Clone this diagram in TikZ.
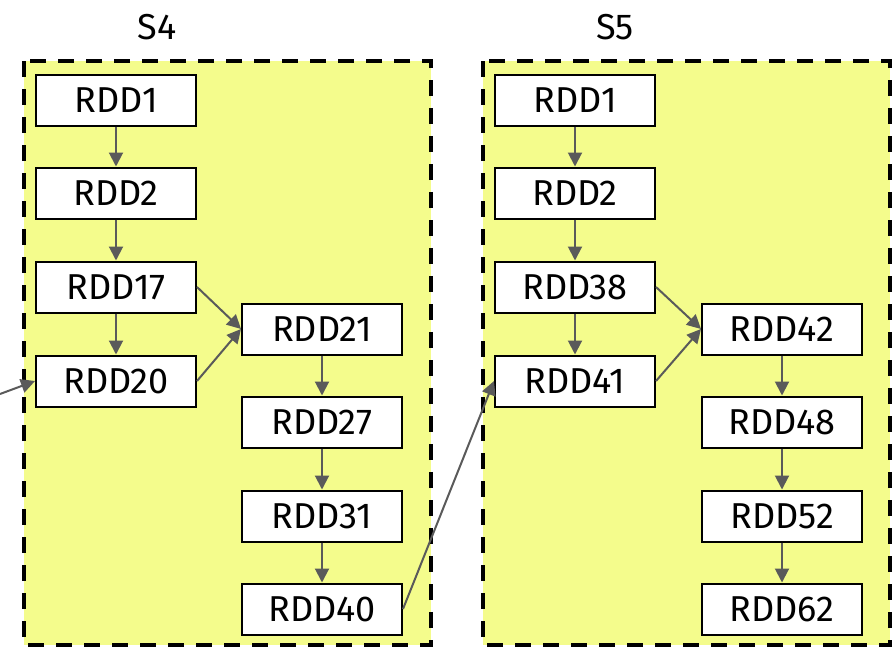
\documentclass[tikz,border=0pt]{standalone}
\usepackage{fontspec}
\setmainfont{Fira Sans}
\usetikzlibrary{arrows.meta}
\definecolor{stagegelb}{RGB}{244,252,140}
\definecolor{kantengrau}{RGB}{90,90,90}
\tikzset{
	rdd/.style={draw=black, fill=white, line width=2pt, minimum width=160pt, minimum height=51pt, inner sep=0pt, font=\fontsize{36}{40}\selectfont},
	stage/.style={draw=black, fill=stagegelb, line width=4pt, dash pattern=on 16pt off 12pt},
	stagename/.style={font=\fontsize{36}{40}\selectfont},
	kante/.style={draw=kantengrau, line width=2pt, -{Triangle[length=14pt,width=14pt]}},
}
\begin{document}
\begin{tikzpicture}[x=1pt, y=-1pt]
		\useasboundingbox (0,0) rectangle (893,648);
		
		%Stages
		\draw[stage] (24,61) rectangle (431,645);
		\draw[stage] (483,61) rectangle (890,645);
		\node[stagename] (s4) at (157,27) {S4};
		\node[stagename] (s5) at (615,27) {S5};
		
		%Knoten S4
		\node[rdd] (a1) at (116,100) {RDD1};
		\node[rdd] (a2) at (116,193) {RDD2};
		\node[rdd] (a17) at (116,287) {RDD17};
		\node[rdd] (a20) at (116,381) {RDD20};
		\node[rdd] (a21) at (322,329) {RDD21};
		\node[rdd] (a27) at (322,422) {RDD27};
		\node[rdd] (a31) at (322,516) {RDD31};
		\node[rdd] (a40) at (322,609) {RDD40};
		
		%Knoten S5
		\node[rdd] (b1) at (575,100) {RDD1};
		\node[rdd] (b2) at (575,193) {RDD2};
		\node[rdd] (b38) at (575,287) {RDD38};
		\node[rdd] (b41) at (575,381) {RDD41};
		\node[rdd] (b42) at (782,329) {RDD42};
		\node[rdd] (b48) at (782,422) {RDD48};
		\node[rdd] (b52) at (782,516) {RDD52};
		\node[rdd] (b62) at (782,609) {RDD62};
		
		%Kanten S4
		\coordinate (ein) at (0,394);
		\draw[kante] (ein) -- (a20.west);
		\draw[kante] (a1) -- (a2);
		\draw[kante] (a2) -- (a17);
		\draw[kante] (a17) -- (a20);
		\draw[kante] (a17.east) -- (a21.west);
		\draw[kante] (a20.east) -- (a21.west);
		\draw[kante] (a21) -- (a27);
		\draw[kante] (a27) -- (a31);
		\draw[kante] (a31) -- (a40);
		
		%Kanten S5
		\draw[kante] (a40.east) -- (b41.west);
		\draw[kante] (b1) -- (b2);
		\draw[kante] (b2) -- (b38);
		\draw[kante] (b38) -- (b41);
		\draw[kante] (b38.east) -- (b42.west);
		\draw[kante] (b41.east) -- (b42.west);
		\draw[kante] (b42) -- (b48);
		\draw[kante] (b48) -- (b52);
		\draw[kante] (b52) -- (b62);
		
\end{tikzpicture}
\end{document}
